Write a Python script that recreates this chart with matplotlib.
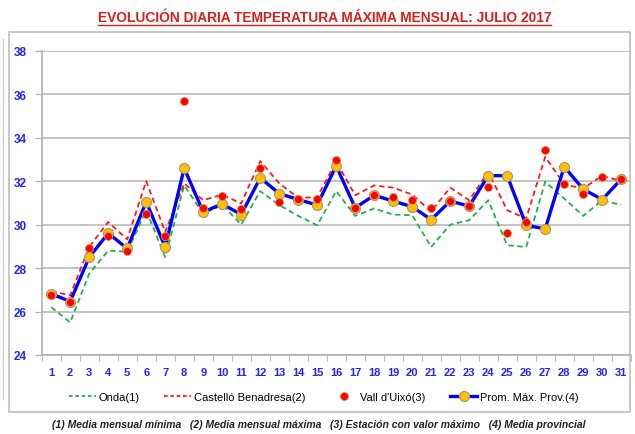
import matplotlib
matplotlib.use("Agg")
import matplotlib.pyplot as plt
from matplotlib.patches import Rectangle
from matplotlib.lines import Line2D
import numpy as np

days = list(range(1, 32))
onda = [26.2, 25.5, 27.74, 28.8, 28.75, 30.66, 28.5, 31.8, 30.5, 30.9,
        30.0, 31.54, 30.9, 30.4, 29.97, 31.54, 30.4, 30.74, 30.46, 30.43,
        28.97, 30.0, 30.2, 31.12, 29.05, 28.97, 31.97, 31.2, 30.4, 31.12, 30.9]
castello = [26.94, 26.74, 28.97, 30.12, 29.32, 32.0, 29.66, 31.9, 31.12, 31.38,
            30.97, 32.92, 31.9, 31.23, 31.26, 32.9, 31.35, 31.8, 31.7, 31.38,
            30.6, 31.7, 31.12, 32.43, 30.66, 30.28, 33.12, 31.85, 31.66, 32.25, 32.0]
vall = [26.74, 26.46, 28.9, 29.48, 28.8, 30.5, 29.48, 35.69, 30.77, 31.32,
        30.7, 32.6, 31.05, 31.2, 31.2, 32.97, 30.77, 31.38, 31.28, 31.15,
        30.77, 31.09, 30.86, 31.74, 29.6, 30.1, 33.43, 31.86, 31.43, 32.2, 32.09]
prom = [26.82, 26.46, 28.5, 29.6, 28.9, 31.05, 28.97, 32.6, 30.58, 30.95,
        30.46, 32.15, 31.43, 31.15, 30.9, 32.7, 30.77, 31.35, 31.08, 30.82,
        30.23, 31.08, 30.85, 32.25, 32.25, 29.97, 29.8, 32.66, 31.63, 31.15, 32.09]

labels = ["Onda(1)", "Castelló Benadresa(2)", "Vall d'Uixó(3)", "Prom. Máx. Prov.(4)"]
title = "EVOLUCIÓN DIARIA TEMPERATURA MÁXIMA MENSUAL: JULIO 2017"
footnote = ("(1) Media mensual mínima   (2) Media mensual máxima   "
            "(3) Estación con valor máximo   (4) Media provincial")
yticks = [24, 26, 28, 30, 32, 34, 36, 38]

FONT = ['Liberation Sans Narrow', 'Liberation Sans', 'DejaVu Sans']
plt.rcParams['font.family'] = FONT

W, H = 635, 435
fig = plt.figure(figsize=(W / 100, H / 100), dpi=100)

# outer frame
fig.patches.append(Rectangle((9 / W, (H - 413) / H), (630 - 9) / W, (413 - 33) / H,
                             transform=fig.transFigure, fill=False,
                             edgecolor='#bfbfbf', linewidth=1.2))
fig.add_artist(Line2D([3 / W, 3 / W], [(H - 400) / H, (H - 40) / H],
                      transform=fig.transFigure, color='#d0d0d0', lw=1.0))

ax = fig.add_axes([41.7 / W, (H - 356) / H, (630.7 - 41.7) / W, (356 - 51.7) / H])

green = '#21b04b'
red = '#ff1a1a'
blue = '#0000ff'
orange = '#ffc000'

ax.plot(days, onda, color=green, lw=1.3, ls=(0, (3, 2)), zorder=3)
ax.plot(days, castello, color=red, lw=1.3, ls=(0, (3, 2)), zorder=3)
ax.plot(days, prom, color=blue, lw=2.4, marker='o', ms=7.2,
        mfc=orange, mec='#b0926a', mew=0.8, zorder=4)
ax.plot(days, vall, ls='none', marker='o', ms=5.8, mfc='#ff0000',
        mec='#d89a50', mew=0.6, zorder=5)

ax.set_xlim(0.5, 31.5)
ax.set_ylim(24, 38)
ax.set_yticks(yticks)
ax.set_xticks(days)
ax.set_xticks(np.arange(0.5, 32, 1), minor=True)
ax.grid(axis='y', color='#c4c4c4', lw=1.4, zorder=0)
for s in ['top', 'right']:
    ax.spines[s].set_visible(False)
for s in ['left', 'bottom']:
    ax.spines[s].set_color('#b0b0b0')
    ax.spines[s].set_linewidth(1.2)

ax.tick_params(axis='x', which='major', length=0, pad=9,
               labelcolor='#2323ff', labelsize=8)
ax.tick_params(axis='x', which='minor', length=4, color='#b0b0b0', direction='out')
ax.tick_params(axis='y', length=5, color='#b0b0b0', direction='out', pad=6,
               labelcolor='#2323ff', labelsize=8.5)
for lab in ax.get_xticklabels() + ax.get_yticklabels():
    lab.set_fontweight('bold')

t = fig.text(0.511, (H - 18) / H, title, ha='center', va='center',
             color='#d8201a', fontsize=9.9, fontweight='bold')
# underline
fig.canvas.draw()
bb = t.get_window_extent()
fig.add_artist(Line2D([bb.x0 / W, bb.x1 / W], [(bb.y0 - 1) / H, (bb.y0 - 1) / H],
                      transform=fig.transFigure, color='#d8201a', lw=1.0))

handles = [
    Line2D([], [], color=green, lw=1.3, ls=(0, (2, 1.5))),
    Line2D([], [], color=red, lw=1.3, ls=(0, (2, 1.5))),
    Line2D([], [], ls='none', marker='o', ms=5.8, mfc='#ff0000', mec='#d89a50', mew=0.6),
    Line2D([], [], color=blue, lw=2.4, marker='o', ms=7.2, mfc=orange, mec='#b0926a', mew=0.8),
]
fig.legend(handles, labels, loc='center', bbox_to_anchor=(0.51, (H - 398) / H),
           ncol=4, frameon=False, fontsize=8, handlelength=2.4, columnspacing=2.2,
           handletextpad=0.3)

fig.text(0.502, (H - 425) / H, footnote, ha='center', va='center',
         fontsize=7.5, fontstyle='italic', fontweight='bold', color='#222222')

fig.savefig('out.png', dpi=100)
